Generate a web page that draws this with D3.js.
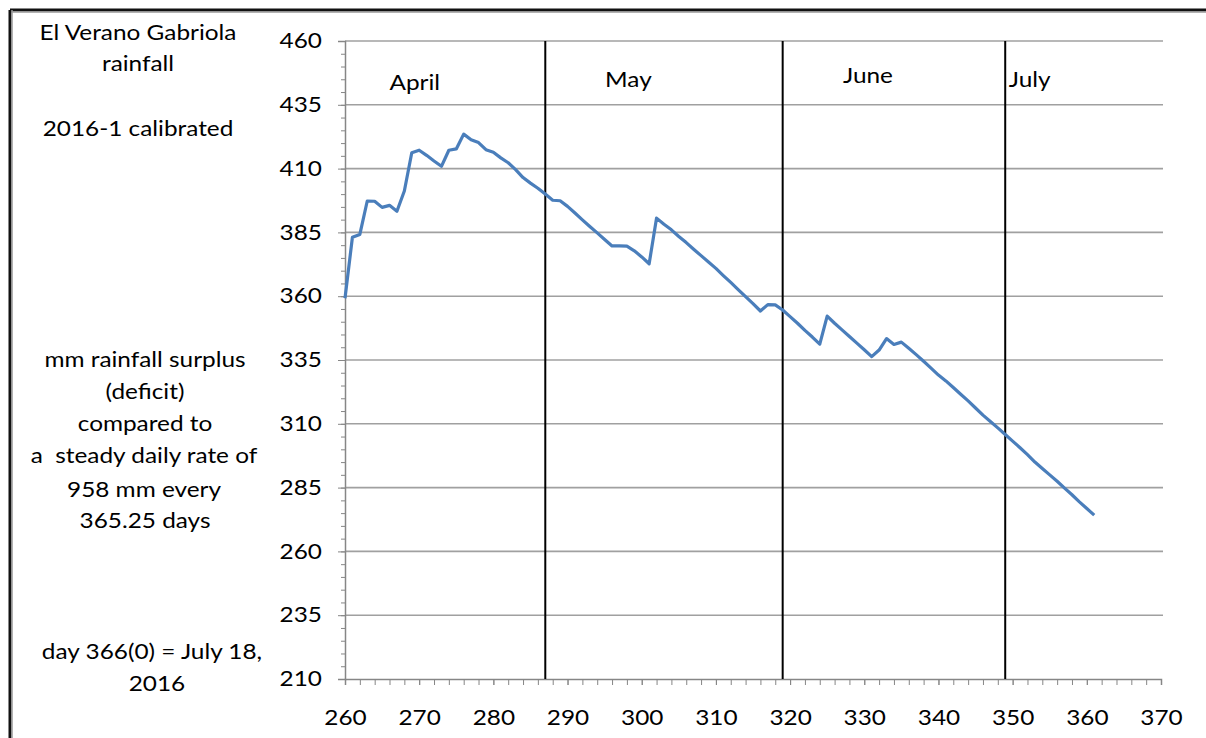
<!DOCTYPE html>
<html>
<head>
<meta charset="utf-8">
<script src="https://cdn.jsdelivr.net/npm/d3@7"></script>
<style>
  html, body { margin: 0; padding: 0; background: #fff; }
  svg text { font-family: Lato, "Open Sans", sans-serif; fill: #000; }
</style>
</head>
<body>
<svg id="chart" width="1206" height="738"></svg>
<script>
// ---- data ----
const days = d3.range(260, 362);
const surplus = [
  359.2, 383.1, 384.2, 397.3, 397.2, 394.8, 395.6, 393.3, 401.2, 416.2,
  417.2, 415.2, 413.0, 410.9, 417.2, 417.7, 423.5, 421.3, 420.2, 417.4,
  416.4, 414.2, 412.3, 409.6, 406.5, 404.3, 402.3, 400.0, 397.6, 397.4,
  395.2, 392.6, 389.9, 387.3, 384.8, 382.2, 379.7, 379.7, 379.6, 377.8,
  375.4, 372.7, 390.6, 388.2, 386.0, 383.4, 381.0, 378.4, 375.9, 373.4,
  370.9, 368.1, 365.4, 362.6, 359.8, 357.1, 354.2, 356.7, 356.6, 354.6,
  352.0, 349.4, 346.6, 344.0, 341.2, 352.2, 349.4, 346.8, 344.2, 341.6,
  339.0, 336.3, 338.9, 343.4, 341.1, 342.0, 339.6, 337.1, 334.5, 331.8,
  329.1, 326.8, 324.2, 321.6, 319.0, 316.2, 313.4, 310.9, 308.4, 305.8,
  303.2, 300.6, 297.9, 295.0, 292.5, 290.0, 287.5, 284.8, 282.2, 279.4,
  276.8, 274.2
];
const monthNames = ["April", "May", "June", "July"];
const monthStarts = [287, 319, 349];               // day numbers of month divider lines
const monthLabelDays = [269.4, 298.2, 330.5, 352.3]; // label centre days
const monthLabelVals = [443.5, 444.7, 446.3, 444.7];
const yTicks = [210, 235, 260, 285, 310, 335, 360, 385, 410, 435, 460];
const xTicks = [260, 270, 280, 290, 300, 310, 320, 330, 340, 350, 360, 370];
const sideText = [
  "El Verano Gabriola", "rainfall", "2016-1 calibrated",
  "mm rainfall surplus", "(deficit)", "compared to", "a  steady daily rate of",
  "958 mm every", "365.25 days", "day 366(0) = July 18,", "2016"
];

// ---- layout ----
const svg = d3.select("#chart");
const pLeft = 345, pRight = 1161, pTop = 41, pBottom = 679;
const stretch = 1.16;
const x = d3.scaleLinear().domain([260, 370]).range([pLeft, pRight]);
const y = d3.scaleLinear().domain([210, 460]).range([pBottom, pTop]);

// place text at (tx, ty) with horizontal stretch
function stretchText(sel) {
  sel.each(function () {
    const t = d3.select(this);
    const tx = +t.attr("x") || 0, ty = +t.attr("y") || 0;
    t.attr("x", 0).attr("y", 0)
      .attr("transform", `translate(${tx},${ty}) scale(${stretch},1)`);
  });
}

// frame
svg.append("line").attr("x1", 10).attr("x2", 1206).attr("y1", 10).attr("y2", 10)
  .attr("stroke", "#111").attr("stroke-width", 3);
svg.append("line").attr("x1", 10).attr("x2", 1206).attr("y1", 12).attr("y2", 12)
  .attr("stroke", "#999").attr("stroke-width", 1.5);
svg.append("line").attr("x1", 10).attr("x2", 10).attr("y1", 10).attr("y2", 738)
  .attr("stroke", "#111").attr("stroke-width", 3);
svg.append("line").attr("x1", 12).attr("x2", 12).attr("y1", 10).attr("y2", 738)
  .attr("stroke", "#999").attr("stroke-width", 1.5);

// horizontal gridlines
svg.append("g").selectAll("line").data(yTicks.slice(1)).join("line")
  .attr("x1", pLeft).attr("x2", pRight + 2)
  .attr("y1", d => y(d)).attr("y2", d => y(d))
  .attr("stroke", "#a0a0a0").attr("stroke-width", 1.6);

// y axis
const yMinor = d3.range(210, 461, 5);
svg.append("g").attr("transform", `translate(${pLeft},0)`)
  .call(d3.axisLeft(y).tickValues(yMinor).tickSize(4).tickFormat(""))
  .call(g => g.select(".domain").remove())
  .selectAll("line").attr("stroke", "#868686");
svg.append("g").attr("transform", `translate(${pLeft},0)`)
  .call(d3.axisLeft(y).tickValues(yTicks).tickSize(7).tickPadding(16).tickFormat(d3.format("d")))
  .call(g => g.select(".domain").attr("stroke", "#868686").attr("stroke-width", 1.5))
  .call(g => g.selectAll("line").attr("stroke", "#868686"))
  .call(g => g.selectAll("text").attr("font-size", 21).attr("font-family", "Lato").attr("fill", "#000").call(stretchText));

// x axis
const xMinor = d3.range(260, 371, 2);
svg.append("g").attr("transform", `translate(0,${pBottom})`)
  .call(d3.axisBottom(x).tickValues(xMinor).tickSize(6).tickFormat(""))
  .call(g => g.select(".domain").attr("stroke", "#868686").attr("stroke-width", 1.5))
  .selectAll("line").attr("stroke", "#868686");
svg.append("g").attr("transform", `translate(0,${pBottom})`)
  .call(d3.axisBottom(x).tickValues(xTicks).tickSize(6).tickPadding(25).tickFormat(d3.format("d")))
  .call(g => g.select(".domain").remove())
  .call(g => g.selectAll("line").attr("stroke", "#868686"))
  .call(g => g.selectAll("text").attr("font-size", 21).attr("font-family", "Lato").attr("fill", "#000").call(stretchText));

// month divider lines
svg.append("g").selectAll("line").data(monthStarts).join("line")
  .attr("x1", d => x(d)).attr("x2", d => x(d))
  .attr("y1", y(460)).attr("y2", y(210))
  .attr("stroke", "#000").attr("stroke-width", 2);

// month labels
svg.append("g").selectAll("text").data(monthNames).join("text")
  .attr("x", (d, i) => x(monthLabelDays[i]))
  .attr("y", (d, i) => y(monthLabelVals[i]))
  .attr("font-size", 21)
  .attr("text-anchor", "middle")
  .attr("dy", "0.35em")
  .text(d => d)
  .call(stretchText);

// data line
const line = d3.line().x((d, i) => x(days[i])).y(d => y(d));
svg.append("path").datum(surplus)
  .attr("d", line)
  .attr("fill", "none")
  .attr("stroke", "#4a7ebb")
  .attr("stroke-width", 3.2)
  .attr("stroke-linejoin", "round");

// side annotation
const sideY = [33, 64, 129, 360, 392, 424, 456, 490, 521, 652, 684];
const sideX = [138, 138, 138, 145, 145, 145, 144, 144, 145, 152, 157];
svg.append("g").selectAll("text").data(sideText).join("text")
  .attr("x", (d, i) => sideX[i])
  .attr("y", (d, i) => sideY[i])
  .attr("text-anchor", "middle")
  .attr("dy", "0.35em")
  .attr("font-size", 21)
  .style("white-space", "pre")
  .text(d => d)
  .call(stretchText);
</script>
</body>
</html>
